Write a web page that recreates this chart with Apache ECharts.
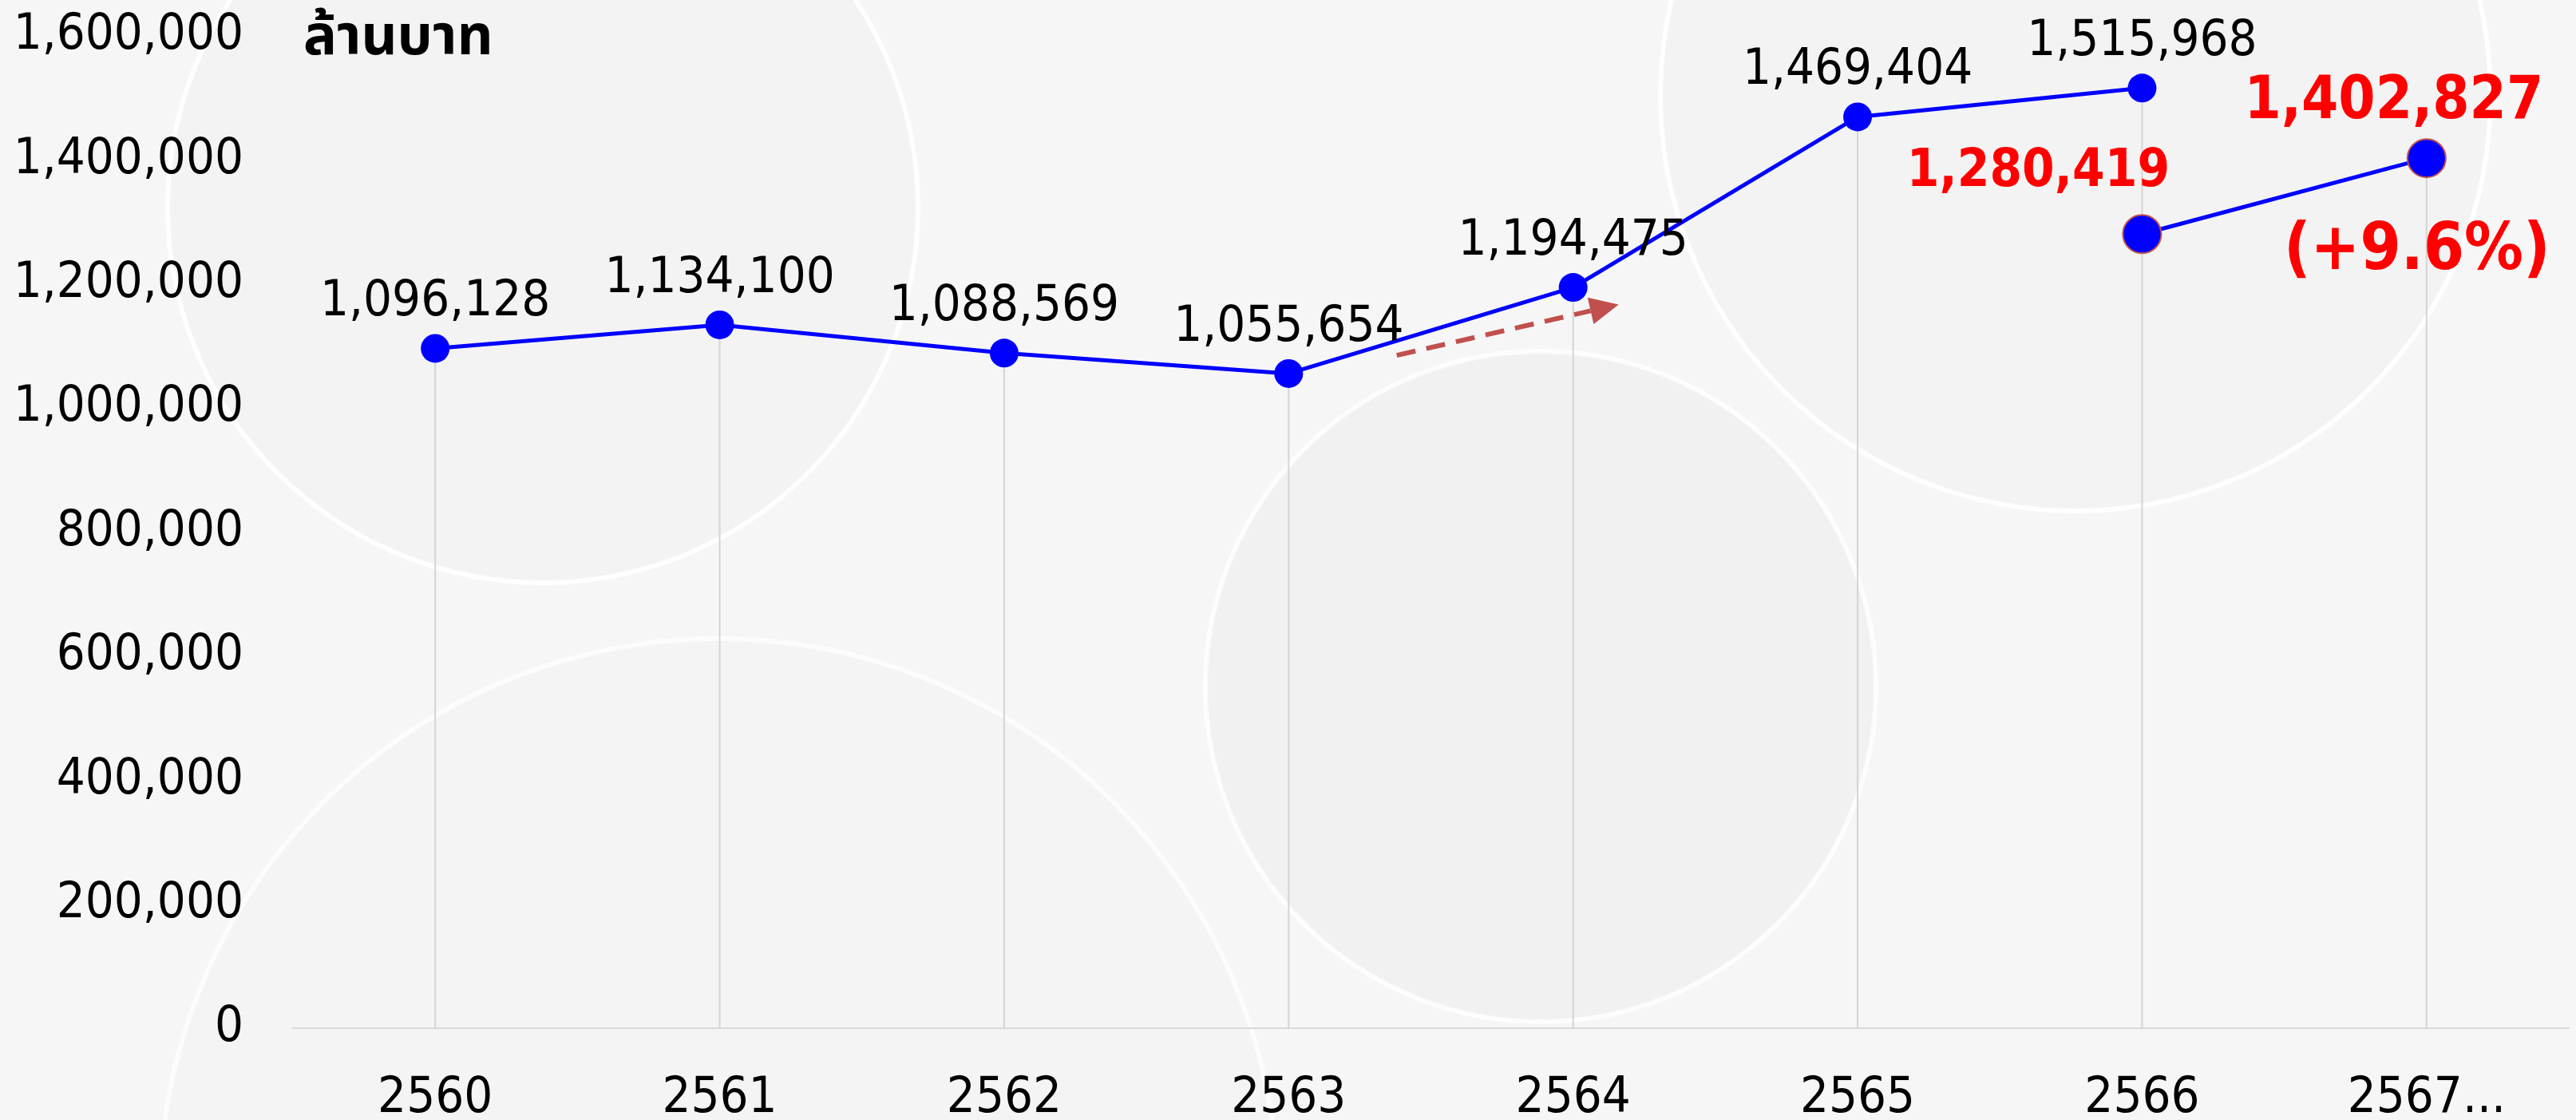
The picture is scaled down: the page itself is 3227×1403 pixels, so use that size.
<!DOCTYPE html>
<html>
<head>
<meta charset="utf-8">
<script src="https://cdn.jsdelivr.net/npm/echarts@6/dist/echarts.min.js"></script>
<style>
  html, body { margin: 0; padding: 0; background: #f6f6f6; }
  #chart { width: 3227px; height: 1403px; }
</style>
</head>
<body>
<div id="chart"></div>
<script>
// categories (Thai Buddhist years)
const categories = ['2560', '2561', '2562', '2563', '2564', '2565', '2566', '2567...'];
// actual revenue, million baht
const actualValues = [1096128, 1134100, 1088569, 1055654, 1194475, 1469404, 1515968, null];
// estimate / target series
const targetValues = [null, null, null, null, null, null, 1280419, 1402827];
// growth note under last point
const growthText = ['', '', '', '', '', '', '', '(+9.6%)'];
// y axis ticks
const yMin = 0;
const yMax = 1600000;
const yStep = 200000;
// trend arrow, in [category index, value]
const arrowFrom = [3.38, 1085000];
const arrowTo = [4.16, 1167000];

const FONT = '"DejaVu Sans Condensed", Tahoma, "Noto Sans", sans-serif';
const fmt = v => v == null ? '' : v.toLocaleString('en-US');

const dropValues = categories.map((c, i) => {
    const vals = [actualValues[i], targetValues[i]].filter(v => v != null);
    return vals.length ? Math.max(...vals) : null;
});

const chart = echarts.init(document.getElementById('chart'));

// faint background swirls
const bgShapes = [
    { type: 'circle', shape: { cx: 680, cy: 260, r: 470 }, style: { fill: 'rgba(0,0,0,0.012)', stroke: 'rgba(255,255,255,0.9)', lineWidth: 6 } },
    { type: 'circle', shape: { cx: 1930, cy: 860, r: 420 }, style: { fill: 'rgba(0,0,0,0.018)', stroke: 'rgba(255,255,255,0.8)', lineWidth: 6 } },
    { type: 'circle', shape: { cx: 2600, cy: 120, r: 520 }, style: { fill: 'rgba(0,0,0,0.01)', stroke: 'rgba(255,255,255,0.9)', lineWidth: 6 } },
    { type: 'circle', shape: { cx: 900, cy: 1500, r: 700 }, style: { fill: 'rgba(0,0,0,0.008)', stroke: 'rgba(255,255,255,0.7)', lineWidth: 6 } }
].map(g => Object.assign(g, { z: -10, silent: true }));

const option = {
    backgroundColor: '#f6f6f6',
    animation: false,
    title: {
        text: 'ล้านบาท',
        left: 375,
        top: 14,
        textStyle: {
            fontFamily: '"Noto Sans Thai", "Noto Sans", Tahoma, sans-serif',
            fontSize: 70,
            fontWeight: 'bold',
            color: '#000'
        }
    },
    grid: { left: 367, right: 9, top: 45, bottom: 115, containLabel: false, outerBoundsMode: 'none' },
    xAxis: {
        type: 'category',
        data: categories,
        axisLine: { lineStyle: { color: '#d9d9d9', width: 2 } },
        axisTick: { show: false },
        axisLabel: { fontFamily: FONT, fontSize: 63, color: '#000', margin: 57 }
    },
    yAxis: {
        type: 'value',
        min: yMin,
        max: yMax,
        interval: yStep,
        splitLine: { show: false },
        axisLine: { show: false },
        axisTick: { show: false },
        axisLabel: {
            fontFamily: FONT, fontSize: 63, color: '#000', margin: 62,
            formatter: v => fmt(v)
        }
    },
    series: [
        {
            name: 'drop',
            type: 'bar',
            data: dropValues,
            barWidth: 2,
            itemStyle: { color: '#d4d4d4' },
            silent: true,
            z: 1
        },
        {
            name: 'actual',
            type: 'line',
            data: actualValues,
            connectNulls: false,
            symbol: 'circle',
            symbolSize: 36,
            lineStyle: { color: '#0000ff', width: 5 },
            itemStyle: { color: '#0000ff' },
            label: {
                show: true,
                position: 'top',
                distance: 8,
                fontFamily: FONT,
                fontSize: 63,
                color: '#000',
                formatter: p => fmt(p.value)
            },
            z: 3
        },
        {
            name: 'target',
            type: 'line',
            data: targetValues.map((v, i) => {
                if (v == null) return null;
                const last = i === targetValues.length - 1;
                return {
                    value: v,
                    label: last
                        ? { offset: [-41, 1], fontSize: 74 }
                        : { offset: [-130, -12], fontSize: 65 }
                };
            }),
            symbol: 'circle',
            symbolSize: 48,
            lineStyle: { color: '#0000ff', width: 5 },
            itemStyle: { color: '#0000ff', borderColor: '#c0504d', borderWidth: 2 },
            label: {
                show: true,
                position: 'top',
                distance: 8,
                fontFamily: FONT,
                fontSize: 74,
                fontWeight: 'bold',
                color: '#ff0000',
                formatter: p => fmt(p.value)
            },
            z: 4
        },
        {
            name: 'growth',
            type: 'line',
            data: targetValues.map((v, i) => growthText[i] ? v : null),
            symbol: 'circle',
            symbolSize: 2,
            itemStyle: { color: 'transparent' },
            lineStyle: { width: 0, color: 'transparent' },
            label: {
                show: true,
                position: 'bottom',
                distance: 76,
                offset: [-12, 0],
                fontFamily: FONT,
                fontSize: 82,
                fontWeight: 'bold',
                color: '#ff0000',
                formatter: p => growthText[p.dataIndex]
            },
            silent: true,
            z: 4
        }
    ],
    graphic: bgShapes
};

chart.setOption(option);

// trend arrow placed in data space
const toPx = ([ci, v]) => {
    const i0 = Math.floor(ci);
    const a = chart.convertToPixel({ gridIndex: 0 }, [categories[i0], v]);
    const b = chart.convertToPixel({ gridIndex: 0 }, [categories[i0 + 1], v]);
    return [a[0] + (ci - i0) * (b[0] - a[0]), a[1]];
};
const p0 = toPx(arrowFrom);
const p1 = toPx(arrowTo);
const dx = p1[0] - p0[0], dy = p1[1] - p0[1];
const len = Math.hypot(dx, dy);
const ux = dx / len, uy = dy / len;
const headLen = 36, headW = 17;
const base = [p1[0] - ux * headLen, p1[1] - uy * headLen];
chart.setOption({
    graphic: bgShapes.concat([
        {
            type: 'line',
            shape: { x1: p0[0], y1: p0[1], x2: base[0], y2: base[1] },
            style: { stroke: '#c0504d', lineWidth: 6, lineDash: [24, 14] },
            z: 5
        },
        {
            type: 'polygon',
            shape: {
                points: [
                    p1,
                    [base[0] - uy * headW, base[1] + ux * headW],
                    [base[0] + uy * headW, base[1] - ux * headW]
                ]
            },
            style: { fill: '#c0504d' },
            z: 5
        }
    ])
});
</script>
</body>
</html>
